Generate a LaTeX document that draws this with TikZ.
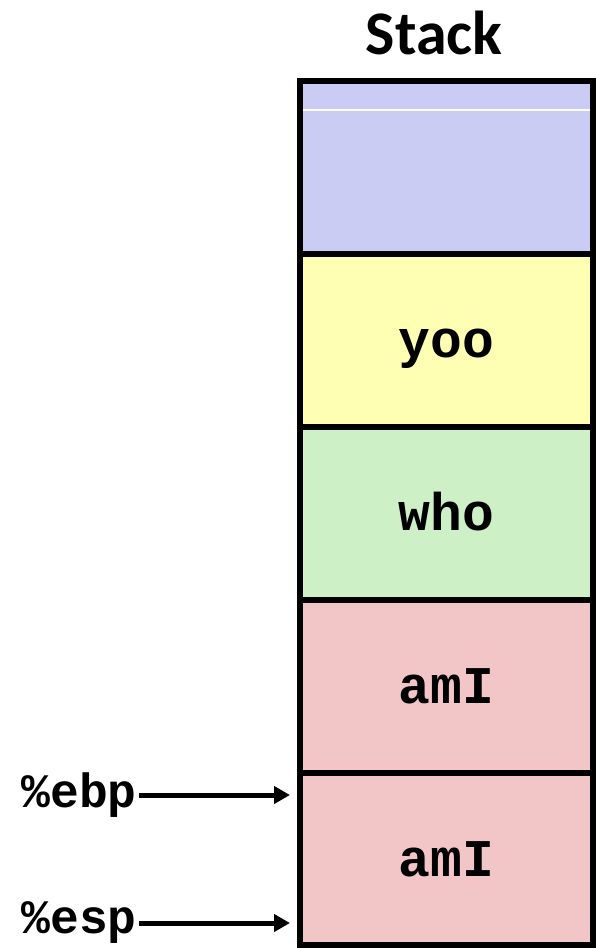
\documentclass[tikz,border=0pt]{standalone}
\usepackage{fontspec}
\setmainfont{Liberation Sans}
\newfontfamily\titlefont{Carlito}
\newfontfamily\codefont{Liberation Mono}
\usetikzlibrary{arrows.meta}
\definecolor{cblue}{RGB}{202,204,243}
\definecolor{cyellow}{RGB}{255,255,180}
\definecolor{cgreen}{RGB}{206,240,198}
\definecolor{cred}{RGB}{242,198,198}
\tikzset{
  cell/.style={draw=black, line width=6pt, minimum width=293pt, inner sep=0pt,
    text height=34pt, text depth=0pt,
    font=\codefont\bfseries\fontsize{53}{53}\selectfont},
  reglabel/.style={anchor=east, inner sep=0pt, font=\codefont\bfseries\fontsize{48}{48}\selectfont},
  ptr/.style={line width=5pt, -{Triangle[length=16pt,width=17pt]}},
}
\begin{document}
\begin{tikzpicture}[x=1pt,y=-1pt]
\useasboundingbox (0,0) rectangle (596,948);
\node[anchor=base, inner sep=0pt, font=\titlefont\bfseries\fontsize{62}{62}\selectfont] (title) at (434,54) {Stack};
\node[cell, fill=cblue, minimum height=173pt] (c1) at (446.5,167.5) {};
\draw[white, line width=1.5pt] (303,110) -- (590,110);
\draw[line width=6pt] (300,81) rectangle (593,254);
\node[cell, fill=cyellow, minimum height=173pt] (c2) at (446.5,340.5) {yoo};
\node[cell, fill=cgreen, minimum height=173pt] (c3) at (446.5,513.5) {who};
\node[cell, fill=cred, minimum height=173pt] (c4) at (446.5,686.5) {amI};
\node[cell, fill=cred, minimum height=172pt] (c5) at (446.5,859) {amI};
\node[reglabel] (ebp) at (137,795) {\%ebp};
\node[reglabel] (esp) at (137,923) {\%esp};
\coordinate (ebptip) at (290,795);
\coordinate (esptip) at (290,923);
\draw[ptr] ([xshift=2pt]ebp.east) -- (ebptip);
\draw[ptr] ([xshift=2pt]esp.east) -- (esptip);
\end{tikzpicture}
\end{document}
